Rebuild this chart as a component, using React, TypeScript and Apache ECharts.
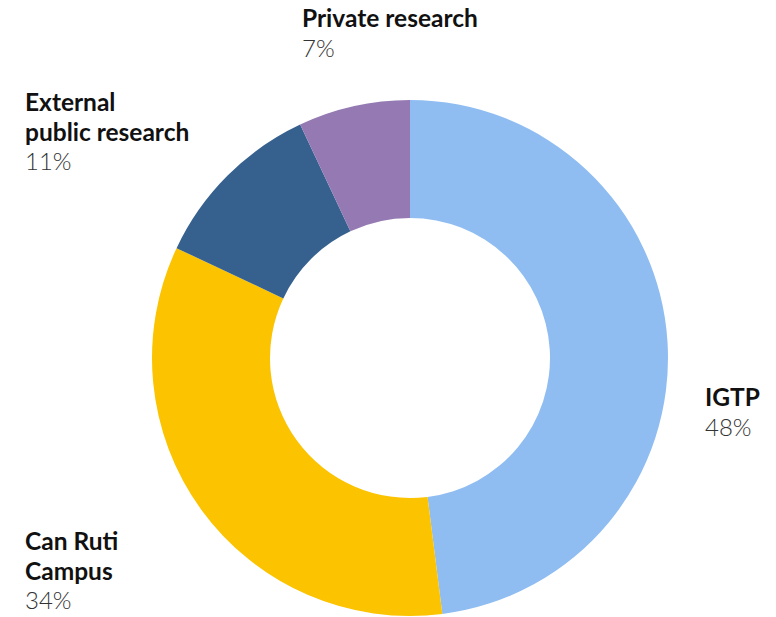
import React, { useEffect, useRef } from "react";
import * as echarts from "echarts";

const categories = ["IGTP", "Can Ruti Campus", "External public research", "Private research"];
const labelLines = ["IGTP", "Can Ruti\nCampus", "External\npublic research", "Private research"];
const values = [48, 34, 11, 7];
const colors = ["#8fbdf2", "#fbc300", "#36618f", "#9479b2"];
const labelPos = [
  { x: 705, y: 382 },
  { x: 25, y: 526 },
  { x: 25, y: 87 },
  { x: 302, y: 3 },
];

export default function App() {
  const ref = useRef<HTMLDivElement>(null);
  useEffect(() => {
    if (!ref.current) return;
    const chart = echarts.init(ref.current, undefined, { renderer: "svg" });
    chart.setOption({
      animation: false,
      backgroundColor: "#ffffff",
      series: [
        {
          type: "pie",
          center: [410, 358],
          radius: [140, 258],
          startAngle: 90,
          clockwise: true,
          data: categories.map((name, i) => ({
            name,
            value: values[i],
            itemStyle: { color: colors[i] },
            label: {
              formatter: () => {
                const parts = labelLines[i].split("\n").map((l) => `{n|${l}}`);
                return parts.join("\n") + `\n{p|${values[i]}%}`;
              },
            },
          })),
          label: {
            show: true,
            position: "outside",
            overflow: "none",
            width: 300,
            rich: {
              n: {
                fontFamily: "Lato",
                fontWeight: "bold",
                fontSize: 24.5,
                color: "#111111",
                lineHeight: 29.5,
              },
              p: {
                fontFamily: "Lato",
                fontWeight: 300,
                fontSize: 24,
                color: "#333333",
                lineHeight: 29.5,
              },
            },
          },
          labelLine: { show: false },
          labelLayout: (params: any) => ({
            x: labelPos[params.dataIndex].x,
            y: labelPos[params.dataIndex].y,
            align: "left",
            verticalAlign: "top",
          }),
          emphasis: { disabled: true },
        },
      ],
    });
    return () => chart.dispose();
  }, []);
  return (
    <div
      ref={ref}
      style={{ position: "fixed", left: 0, top: 0, width: 776, height: 617 }}
    />
  );
}
